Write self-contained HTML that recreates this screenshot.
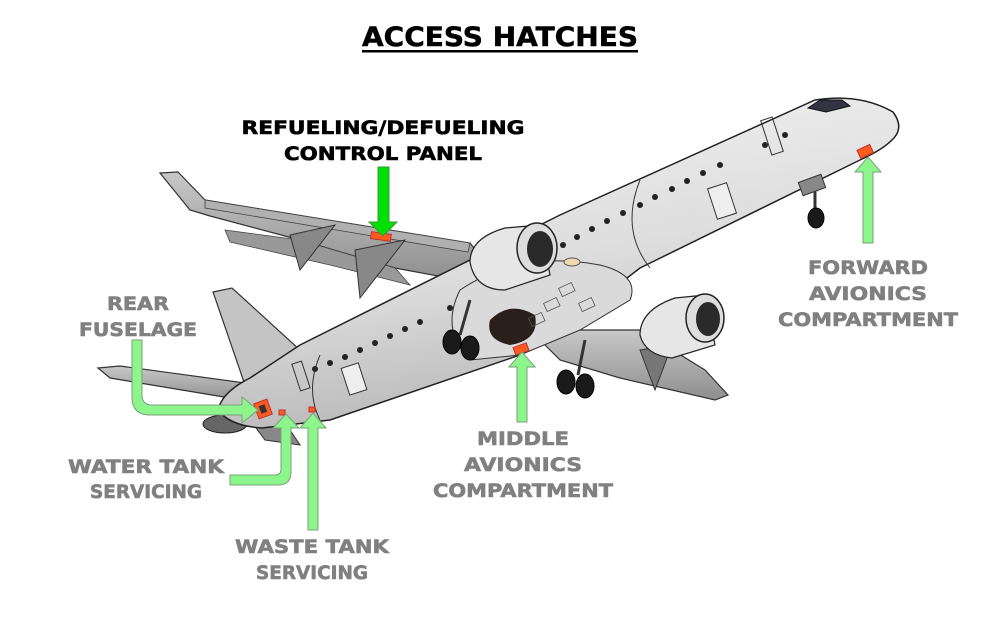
<!DOCTYPE html>
<html><head><meta charset="utf-8"><style>
html,body{margin:0;padding:0;background:#fff;}
svg{display:block}
text{font-family:"DejaVu Sans","Liberation Sans",sans-serif;font-weight:bold;}
</style></head><body>
<svg width="1000" height="625" viewBox="0 0 1000 625" xmlns="http://www.w3.org/2000/svg">
<defs>
<linearGradient id="fus" x1="0" y1="0" x2="0.3" y2="1">
<stop offset="0" stop-color="#f4f4f4"/><stop offset="0.6" stop-color="#dcdcdc"/><stop offset="1" stop-color="#b8b8b8"/></linearGradient>
<linearGradient id="wing" x1="0" y1="0" x2="0" y2="1"><stop offset="0" stop-color="#c8c8c8"/><stop offset="1" stop-color="#8e8e8e"/></linearGradient>
</defs>
<text x="500" y="46" font-size="27" text-anchor="middle" fill="#000" stroke="#000" stroke-width="0.5" textLength="276" lengthAdjust="spacingAndGlyphs">ACCESS HATCHES</text>
<rect x="362" y="50" width="276" height="2.5" fill="#000"/>

<polygon points="160,173 178,172 205,200 470,243 485,262 470,282 395,268 300,240 210,216 190,210" fill="url(#wing)" stroke="#333" stroke-width="1.2"/>
<polygon points="205,200 470,243 468,252 205,208" fill="#b0b0b0" stroke="#444" stroke-width="0.8"/>
<polygon points="225,230 300,240 395,268 410,285 330,265 230,242" fill="#999" stroke="#444" stroke-width="0.8"/>
<path d="M290,235 L335,225 L300,270 Z" fill="#888" stroke="#333"/>
<path d="M355,250 L405,240 L360,298 Z" fill="#888" stroke="#333"/>
<polygon points="98,368 120,366 260,385 262,402 230,398 110,378" fill="url(#wing)" stroke="#333" stroke-width="1.2"/>
<polygon points="213,292 232,288 300,350 305,375 262,392 245,385" fill="#c4c4c4" stroke="#333" stroke-width="1.2"/>
<ellipse cx="225" cy="424" rx="22" ry="9" fill="#666" stroke="#222"/>
<polygon points="250,420 290,430 300,445 265,440" fill="#888" stroke="#333"/>
<polygon points="530,330 640,330 705,370 728,395 715,400 620,378 560,360" fill="url(#wing)" stroke="#333" stroke-width="1.2"/>
<path d="M640,350 L672,345 L655,390 Z" fill="#777" stroke="#333"/>
<path d="M815,100 Q860,93 893,112 Q905,128 892,140 Q882,150 860,160 L640,268 L560,330 L520,355 L330,420 L262,428 Q230,426 218,410 Q222,392 250,378 L300,345 L560,215 Z" fill="url(#fus)" stroke="#222" stroke-width="1.5"/>
<path d="M808,108 L820,100 L842,100 L850,106 L826,112 Z" fill="#334" stroke="#111"/>
<g fill="#222">
<circle cx="785" cy="135" r="3"/><circle cx="765" cy="145" r="3"/><circle cx="720" cy="165" r="3"/><circle cx="703" cy="173" r="3"/><circle cx="687" cy="181" r="3"/><circle cx="672" cy="189" r="3"/><circle cx="655" cy="197" r="3"/><circle cx="640" cy="205" r="3"/><circle cx="623" cy="213" r="3"/><circle cx="607" cy="221" r="3"/><circle cx="592" cy="229" r="3"/><circle cx="577" cy="237" r="3"/><circle cx="563" cy="245" r="3"/>
<circle cx="480" cy="293" r="3"/><circle cx="465" cy="300" r="3"/><circle cx="450" cy="308" r="3"/><circle cx="420" cy="322" r="3"/><circle cx="405" cy="329" r="3"/><circle cx="390" cy="336" r="3"/><circle cx="375" cy="343" r="3"/><circle cx="360" cy="350" r="3"/><circle cx="345" cy="357" r="3"/><circle cx="330" cy="363" r="3"/><circle cx="315" cy="369" r="3"/>
</g>
<rect x="766" y="118" width="12" height="36" fill="none" stroke="#333" transform="rotate(-18 772 136)"/>
<rect x="712" y="185" width="20" height="32" fill="#eee" stroke="#333" transform="rotate(-18 722 201)"/>
<rect x="345" y="365" width="18" height="28" fill="#eee" stroke="#333" transform="rotate(-18 354 379)"/>
<rect x="296" y="362" width="10" height="28" fill="none" stroke="#333" transform="rotate(-18 301 376)"/>
<path d="M640,180 Q620,230 650,268" fill="none" stroke="#333"/>
<path d="M320,355 Q305,390 320,420" fill="none" stroke="#333"/>
<path d="M460,290 Q520,250 600,265 Q640,275 630,300 L580,330 L520,355 L470,360 Q440,330 460,290 Z" fill="#dadada" stroke="#333"/>
<path d="M490,320 Q510,300 535,315 Q540,340 510,345 Q485,340 490,320 Z" fill="#2a1f1a"/>
<g fill="none" stroke="#555" stroke-width="0.8">
<rect x="560" y="285" width="14" height="9" transform="rotate(-25 567 290)"/><rect x="545" y="300" width="14" height="9" transform="rotate(-25 552 305)"/><rect x="580" y="300" width="14" height="9" transform="rotate(-25 587 305)"/><rect x="530" y="315" width="14" height="9" transform="rotate(-25 537 320)"/>
</g>
<path d="M470,262 Q470,238 505,228 L540,225 L550,275 L505,290 Q475,290 470,262 Z" fill="#e6e6e6" stroke="#222" stroke-width="1.2"/>
<ellipse cx="537" cy="248" rx="20" ry="25" fill="#ddd" stroke="#222" stroke-width="1.5"/>
<ellipse cx="540" cy="249" rx="13" ry="18" fill="#2a2a2a"/>
<ellipse cx="572" cy="262" rx="8" ry="4" fill="#f0d8b0" stroke="#555"/>
<path d="M640,335 Q640,310 675,298 L705,295 L715,345 L672,358 Q645,355 640,335 Z" fill="#e6e6e6" stroke="#222" stroke-width="1.2"/>
<ellipse cx="705" cy="318" rx="19" ry="24" fill="#ddd" stroke="#222" stroke-width="1.5"/>
<ellipse cx="708" cy="319" rx="12" ry="17" fill="#2a2a2a"/>
<g stroke="#333" stroke-width="3"><line x1="470" y1="300" x2="460" y2="335"/><line x1="585" y1="340" x2="578" y2="375"/><line x1="815" y1="180" x2="815" y2="210"/></g>
<rect x="800" y="178" width="24" height="14" fill="#888" stroke="#333" transform="rotate(-20 812 185)"/>
<g fill="#1a1a1a" stroke="#000"><ellipse cx="452" cy="342" rx="9" ry="12"/><ellipse cx="470" cy="348" rx="9" ry="12"/><ellipse cx="566" cy="382" rx="9" ry="12"/><ellipse cx="585" cy="386" rx="9" ry="12"/><ellipse cx="816" cy="218" rx="8" ry="10"/></g>
<g fill="#ff5a1f" stroke="#b33">
<rect x="371" y="233" width="20" height="7" transform="rotate(8 381 236)"/>
<rect x="858" y="147" width="14" height="9" transform="rotate(-25 865 151)"/>
<rect x="514" y="345" width="14" height="8" transform="rotate(-20 521 349)"/>
<rect x="256" y="401" width="14" height="16" transform="rotate(-20 263 409)"/>
<rect x="279" y="410" width="6" height="5"/>
<rect x="309" y="407" width="6" height="5"/>
</g>
<rect x="260" y="405" width="6" height="8" fill="#333" transform="rotate(-20 263 409)"/>

<g fill="#8cf58c" stroke="#7aa07a" stroke-width="1">
<polygon points="378,167 389,167 389,222 397,222 383,236 369,222 378,222" fill="#00e000" stroke="#3a9a3a"/>
<polygon points="863,243 873,243 873,172 881,172 868,157 855,172 863,172"/>
<polygon points="517,422 527,422 527,367 535,367 522,352 509,367 517,367"/>
<polygon points="308,530 318,530 318,428 326,428 313,413 300,428 308,428"/>
<path d="M230,475 L275,475 Q281,475 281,469 L281,428 L273,428 L286,414 L299,428 L291,428 L291,472 Q291,485 278,485 L230,485 Z"/>
<path d="M132,340 L142,340 L142,395 Q142,405 152,405 L242,405 L242,397 L258,410 L242,423 L242,415 L150,415 Q132,415 132,397 Z"/>
</g>

<g text-anchor="middle" font-size="19" stroke-width="0.6">
<text x="383" y="134" fill="#000" stroke="#000" textLength="283" lengthAdjust="spacingAndGlyphs">REFUELING/DEFUELING</text>
<text x="383" y="160" fill="#000" stroke="#000" textLength="198" lengthAdjust="spacingAndGlyphs">CONTROL PANEL</text>
<g fill="#808080" stroke="#808080">
<text x="868" y="274" textLength="120" lengthAdjust="spacingAndGlyphs">FORWARD</text>
<text x="868" y="300" textLength="118" lengthAdjust="spacingAndGlyphs">AVIONICS</text>
<text x="868" y="326" textLength="180" lengthAdjust="spacingAndGlyphs">COMPARTMENT</text>
<text x="138" y="310" textLength="62" lengthAdjust="spacingAndGlyphs">REAR</text>
<text x="138" y="336" textLength="118" lengthAdjust="spacingAndGlyphs">FUSELAGE</text>
<text x="146" y="473" textLength="156" lengthAdjust="spacingAndGlyphs">WATER TANK</text>
<text x="146" y="498" textLength="112" lengthAdjust="spacingAndGlyphs">SERVICING</text>
<text x="312" y="553" textLength="154" lengthAdjust="spacingAndGlyphs">WASTE TANK</text>
<text x="312" y="579" textLength="112" lengthAdjust="spacingAndGlyphs">SERVICING</text>
<text x="523" y="445" textLength="92" lengthAdjust="spacingAndGlyphs">MIDDLE</text>
<text x="523" y="471" textLength="118" lengthAdjust="spacingAndGlyphs">AVIONICS</text>
<text x="523" y="497" textLength="180" lengthAdjust="spacingAndGlyphs">COMPARTMENT</text>
</g></g>
</svg>
</body></html>
